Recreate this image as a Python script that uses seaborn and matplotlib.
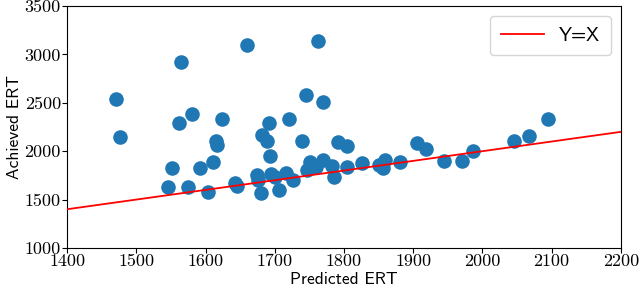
import numpy as np
import pandas as pd
import matplotlib
matplotlib.use('Agg')
import matplotlib.pyplot as plt
import seaborn as sns

# values
predicted_ert = [1471, 1476, 1546, 1551, 1561, 1565, 1575, 1581, 1592, 1603,
                 1610, 1615, 1616, 1623, 1643, 1645, 1660, 1674, 1675, 1680,
                 1682, 1689, 1691, 1693, 1694, 1700, 1706, 1716, 1720, 1727,
                 1740, 1745, 1746, 1751, 1760, 1762, 1770, 1770, 1782, 1785,
                 1791, 1804, 1804, 1826, 1850, 1857, 1859, 1881, 1906, 1918,
                 1944, 1970, 1987, 2046, 2068, 2095]
achieved_ert = [2540, 2143, 1633, 1823, 2288, 2918, 1633, 2384, 1830, 1575,
                1885, 2109, 2064, 2336, 1675, 1645, 3094, 1754, 1705, 1568,
                2167, 2105, 2288, 1955, 1766, 1736, 1603, 1775, 2333, 1702,
                2102, 2580, 1805, 1885, 1840, 3140, 1905, 2505, 1850, 1736,
                2095, 2050, 1840, 1880, 1860, 1830, 1909, 1885, 2081, 2020,
                1899, 1899, 2005, 2109, 2160, 2333]
line_x = [1400, 2200]

x_ticks = [1400, 1500, 1600, 1700, 1800, 1900, 2000, 2100, 2200]
y_ticks = [1000, 1500, 2000, 2500, 3000, 3500]

df = pd.DataFrame({'pred': predicted_ert, 'ach': achieved_ert})
line_df = pd.DataFrame({'x': line_x, 'y': line_x})

fig, ax = plt.subplots(figsize=(6.4, 2.92), dpi=100)
fig.subplots_adjust(left=0.105, right=0.970, top=0.979, bottom=0.151)

sns.scatterplot(data=df, x='pred', y='ach', ax=ax, s=110, color='#1f77b4',
                linewidth=0, alpha=1, zorder=2)
sns.lineplot(data=line_df, x='x', y='y', ax=ax, color='red', linewidth=1.3,
             label='Y=X', zorder=3)

ax.set_xlim(1400, 2200)
ax.set_ylim(1000, 3500)
ax.set_xticks(x_ticks)
ax.set_yticks(y_ticks)
ax.set_xticklabels([str(t) for t in x_ticks], family='cmr10', fontsize=13)
ax.set_yticklabels([str(t) for t in y_ticks], family='cmr10', fontsize=13)
ax.tick_params(pad=1)

ax.set_xlabel('Predicted ERT', family='cmss10', fontsize=12.5, labelpad=2)
ax.set_ylabel('Achieved ERT', family='cmss10', fontsize=12.5, labelpad=2)

leg = ax.legend(loc='upper right', prop={'family': 'cmss10', 'size': 14},
                borderaxespad=0.5, handlelength=2.2, borderpad=0.55)

fig.savefig('out.png', dpi=100)
